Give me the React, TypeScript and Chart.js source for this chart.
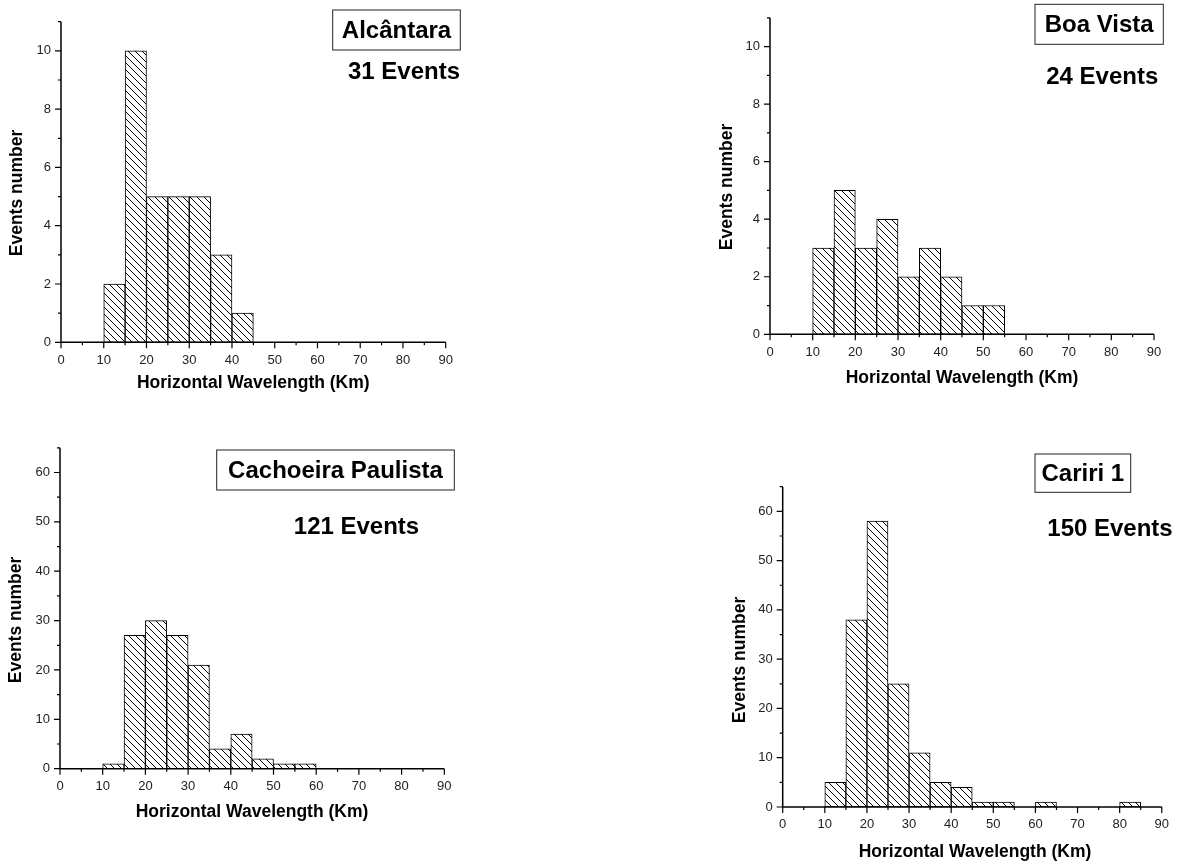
import React, { useEffect, useRef } from 'react';
import { Chart, registerables } from 'chart.js';

Chart.register(...registerables);

// ---------- data ----------
const binWidth = 5;

const alcantaraBins = [10, 15, 20, 25, 30, 35, 40];
const alcantaraCounts = [2, 10, 5, 5, 5, 3, 1];

const boaVistaBins = [10, 15, 20, 25, 30, 35, 40, 45, 50];
const boaVistaCounts = [3, 5, 3, 4, 2, 3, 2, 1, 1];

const cachoeiraBins = [10, 15, 20, 25, 30, 35, 40, 45, 50, 55];
const cachoeiraCounts = [1, 27, 30, 27, 21, 4, 7, 2, 1, 1];

const caririBins = [10, 15, 20, 25, 30, 35, 40, 45, 50, 60, 80];
const caririCounts = [5, 38, 58, 25, 11, 5, 4, 1, 1, 1, 1];

const stationNames = ['Alcântara', 'Boa Vista', 'Cachoeira Paulista', 'Cariri 1'];
const eventLabels = ['31 Events', '24 Events', '121 Events', '150 Events'];

const xAxisTitle = 'Horizontal Wavelength (Km)';
const yAxisTitle = 'Events number';

const xMin = 0;
const xMax = 90;
const xMinorStep = 5;
const xLabelStep = 10;

// ---------- layout / style ----------
const FONT = '"Liberation Sans", Arial, Helvetica, sans-serif';

type Panel = {
  bins: number[];
  counts: number[];
  name: string;
  events: string;
  yMax: number;
  yStep: number;
  yLabelStep: number;
  left: number;
  top: number;
  w: number;
  h: number;
  area: { l: number; r: number; t: number; b: number };
  box: { x1: number; x2: number; y1: number; y2: number };
  ev: { x: number; y: number; align: CanvasTextAlign };
  yTitle: { x: number; y: number };
  xTitle: { x: number; y: number };
};

const panels: Panel[] = [
  {
    bins: alcantaraBins, counts: alcantaraCounts, name: stationNames[0], events: eventLabels[0],
    yMax: 11, yStep: 1, yLabelStep: 2,
    left: 0, top: 0, w: 480, h: 400,
    area: { l: 61, r: 445.7, t: 21.7, b: 342.3 },
    box: { x1: 332.7, x2: 460.3, y1: 10, y2: 50 },
    ev: { x: 460, y: 71.7, align: 'right' },
    yTitle: { x: 16.7, y: 193 },
    xTitle: { x: 253.3, y: 383 },
  },
  {
    bins: boaVistaBins, counts: boaVistaCounts, name: stationNames[1], events: eventLabels[1],
    yMax: 11, yStep: 1, yLabelStep: 2,
    left: 700, top: 0, w: 479, h: 400,
    area: { l: 70, r: 454, t: 14, b: 334.3 },
    box: { x1: 335, x2: 463.3, y1: 4.3, y2: 44.3 },
    ev: { x: 458.3, y: 76.7, align: 'right' },
    yTitle: { x: 26.7, y: 187 },
    xTitle: { x: 262, y: 378 },
  },
  {
    bins: cachoeiraBins, counts: cachoeiraCounts, name: stationNames[2], events: eventLabels[2],
    yMax: 65, yStep: 5, yLabelStep: 10,
    left: 0, top: 430, w: 480, h: 431,
    area: { l: 60, r: 444.3, t: 17.3, b: 338.7 },
    box: { x1: 216.7, x2: 454.3, y1: 20, y2: 60 },
    ev: { x: 356.5, y: 96.7, align: 'center' },
    yTitle: { x: 16, y: 190 },
    xTitle: { x: 252, y: 381.7 },
  },
  {
    bins: caririBins, counts: caririCounts, name: stationNames[3], events: eventLabels[3],
    yMax: 65, yStep: 5, yLabelStep: 10,
    left: 700, top: 430, w: 479, h: 431,
    area: { l: 82.7, r: 467.3, t: 56.7, b: 377 },
    box: { x1: 335, x2: 430.7, y1: 24, y2: 62.3 },
    ev: { x: 472.7, y: 98.3, align: 'right' },
    yTitle: { x: 40, y: 230 },
    xTitle: { x: 275, y: 421.7 },
  },
];

function makeHatch(): CanvasPattern | string {
  const s = 7;
  const c = document.createElement('canvas');
  c.width = s;
  c.height = s;
  const g = c.getContext('2d');
  if (!g) return '#fff';
  g.fillStyle = '#ffffff';
  g.fillRect(0, 0, s, s);
  g.strokeStyle = '#000000';
  g.lineWidth = 1;
  g.beginPath();
  for (const k of [-s, 0, s]) {
    g.moveTo(k, 0);
    g.lineTo(k + s, s);
  }
  g.stroke();
  return g.createPattern(c, 'repeat') || '#fff';
}

function HistPanel({ p }: { p: Panel }) {
  const ref = useRef<HTMLCanvasElement | null>(null);

  useEffect(() => {
    const canvas = ref.current;
    if (!canvas) return;
    const xAxisH = 30;
    const hatch = makeHatch();

    const axesPlugin = {
      id: 'originAxes',
      afterDraw(chart: any) {
        const { ctx, chartArea } = chart;
        const xs = chart.scales.x;
        const ys = chart.scales.y;
        ctx.save();
        ctx.strokeStyle = '#000';
        ctx.lineWidth = 1.5;
        ctx.beginPath();
        ctx.moveTo(chartArea.left, chartArea.bottom);
        ctx.lineTo(chartArea.right, chartArea.bottom);
        ctx.moveTo(chartArea.left, chartArea.bottom);
        ctx.lineTo(chartArea.left, chartArea.top);
        ctx.stroke();
        ctx.lineWidth = 1.2;
        ctx.beginPath();
        xs.ticks.forEach((t: any) => {
          const px = xs.getPixelForValue(t.value);
          const len = t.value % xLabelStep === 0 ? 6 : 3;
          ctx.moveTo(px, chartArea.bottom);
          ctx.lineTo(px, chartArea.bottom + len);
        });
        ys.ticks.forEach((t: any) => {
          const py = ys.getPixelForValue(t.value);
          const len = t.value % p.yLabelStep === 0 ? 6 : 3;
          ctx.moveTo(chartArea.left, py);
          ctx.lineTo(chartArea.left - len, py);
        });
        ctx.stroke();

        // annotations
        ctx.fillStyle = '#000';
        ctx.strokeStyle = '#222';
        ctx.lineWidth = 1;
        ctx.strokeRect(p.box.x1, p.box.y1, p.box.x2 - p.box.x1, p.box.y2 - p.box.y1);
        ctx.font = `bold 24px ${FONT}`;
        ctx.textAlign = 'center';
        ctx.textBaseline = 'middle';
        ctx.fillText(p.name, (p.box.x1 + p.box.x2) / 2, (p.box.y1 + p.box.y2) / 2 + 1);
        ctx.textAlign = p.ev.align;
        ctx.fillText(p.events, p.ev.x, p.ev.y + 1);

        // axis titles
        ctx.font = `bold 17.5px ${FONT}`;
        ctx.textAlign = 'center';
        ctx.fillText(xAxisTitle, p.xTitle.x, p.xTitle.y);
        ctx.save();
        ctx.translate(p.yTitle.x, p.yTitle.y);
        ctx.rotate(-Math.PI / 2);
        ctx.fillText(yAxisTitle, 0, 0);
        ctx.restore();
        ctx.restore();
      },
    };

    const chart = new Chart(canvas, {
      type: 'bar',
      data: {
        datasets: [
          {
            data: p.bins.map((b, i) => ({ x: b + binWidth / 2, y: p.counts[i] })),
            backgroundColor: hatch as any,
            borderColor: '#000',
            borderWidth: 1,
            borderSkipped: false,
            barPercentage: 1,
            categoryPercentage: 1,
          } as any,
        ],
      },
      options: {
        responsive: false,
        animation: false,
        devicePixelRatio: 1,
        layout: {
          padding: {
            left: 0,
            top: p.area.t,
            right: p.w - p.area.r,
            bottom: p.h - p.area.b - xAxisH,
          },
        },
        plugins: {
          legend: { display: false },
          tooltip: { enabled: false },
        },
        scales: {
          x: {
            type: 'linear',
            min: xMin,
            max: xMax,
            offset: false,
            grid: { display: false, drawTicks: false },
            border: { display: false },
            ticks: {
              stepSize: xMinorStep,
              autoSkip: false,
              maxRotation: 0,
              minRotation: 0,
              padding: 10,
              color: '#222',
              font: { family: FONT, size: 13 },
              callback: (v: any) => (Number(v) % xLabelStep === 0 ? String(v) : ''),
            },
            afterFit: (s: any) => {
              s.height = xAxisH;
            },
          },
          y: {
            type: 'linear',
            min: 0,
            max: p.yMax,
            grid: { display: false, drawTicks: false },
            border: { display: false },
            ticks: {
              stepSize: p.yStep,
              autoSkip: false,
              padding: 10,
              color: '#222',
              font: { family: FONT, size: 13 },
              callback: (v: any) => (Number(v) % p.yLabelStep === 0 ? String(v) : ''),
            },
            afterFit: (s: any) => {
              s.width = p.area.l;
            },
          },
        },
      } as any,
      plugins: [axesPlugin],
    });

    return () => {
      chart.destroy();
    };
  }, [p]);

  return (
    <canvas
      ref={ref}
      width={p.w}
      height={p.h}
      style={{ position: 'absolute', left: p.left, top: p.top, width: p.w, height: p.h }}
    />
  );
}

export default function App() {
  return (
    <div
      style={{
        position: 'absolute',
        left: 0,
        top: 0,
        width: 1179,
        height: 861,
        background: '#fff',
        overflow: 'hidden',
      }}
    >
      {panels.map((p, i) => (
        <HistPanel key={i} p={p} />
      ))}
    </div>
  );
}
